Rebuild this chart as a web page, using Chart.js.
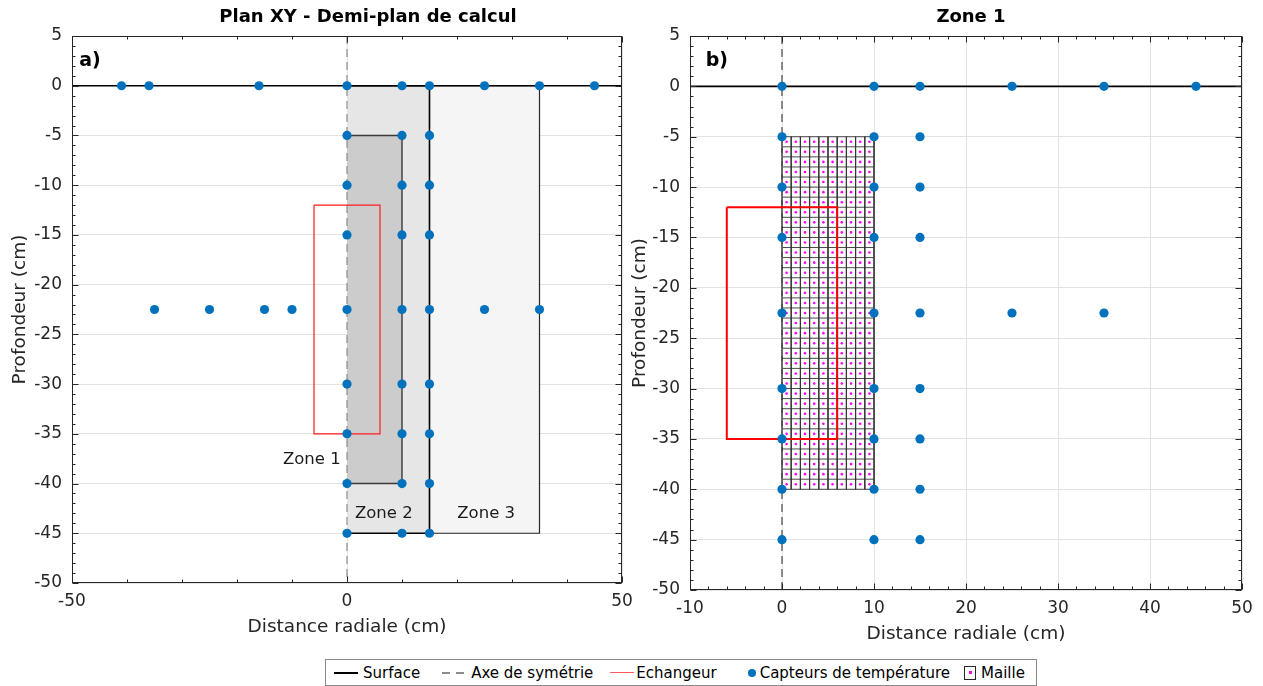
<!DOCTYPE html>
<html>
<head>
<meta charset="utf-8">
<script src="https://cdn.jsdelivr.net/npm/chart.js@4.4.1/dist/chart.umd.min.js"></script>
<style>
    body {
        margin: 0;
        background: #fff;
        width: 1263px;
        height: 686px;
        position: relative;
        overflow: hidden;
        font-family: "DejaVu Sans", Verdana, sans-serif;
    }
    canvas {
        position: absolute;
        top: 0;
    }
    #left-chart { left: 0; }
    #right-chart { left: 620px; }
    #legend {
        position: absolute;
        left: 325px;
        top: 659px;
        width: 710px;
        height: 25px;
        border: 1px solid #8a8a8a;
        display: flex;
        align-items: center;
        font-size: 15px;
        color: #000;
        white-space: nowrap;
    }
    .item { display: inline-flex; align-items: center; }
    .icon { display: inline-block; margin-right: 5px; }
    .solid { width: 24px; height: 2px; background: #000; }
    .dashed { width: 24px; height: 2px; background: repeating-linear-gradient(to right, #8c8c8c 0 8px, transparent 8px 14px); }
    .red { width: 24px; height: 1.5px; background: #ff5a5a; margin-right: 2px; }
    .dot { width: 8px; height: 8px; border-radius: 50%; background: #0072BD; margin: 0 4px 0 4px; }
    .cell { width: 10px; height: 12px; border: 1px solid #262626; position: relative; margin: 0 5px 0 2px; }
    .cell::after { content: ""; position: absolute; left: 3.5px; top: 4.5px; width: 3px; height: 3px; background: #ff00ff; }
</style>
</head>
<body>
<canvas id="left-chart" width="642" height="643"></canvas>
<canvas id="right-chart" width="643" height="650"></canvas>
<div id="legend">
    <span class="item" style="margin-left:8px"><span class="icon solid"></span>Surface</span>
    <span class="item" style="margin-left:22px"><span class="icon dashed"></span>Axe de symétrie</span>
    <span class="item" style="margin-left:17px"><span class="icon red"></span>Echangeur</span>
    <span class="item" style="margin-left:27px"><span class="icon dot"></span>Capteurs de température</span>
    <span class="item" style="margin-left:12px"><span class="icon cell"></span>Maille</span>
</div>
<script>
const FONT = '"DejaVu Sans", Verdana, sans-serif';
const TEXT_COLOR = '#262626';

// surface du sol et axe de symétrie
const surfaceXLeft = [-50, 50];
const surfaceXRight = [-10, 50];
const surfaceY = [0, 0];
const axisX = [0, 0];
const axisY = [5, -50];

// échangeur (rectangle rouge)
const exchangerX = [-6, 6, 6, -6, -6];
const exchangerY = [-12, -12, -35, -35, -12];

// zones : [gauche, droite] et [haut, bas]
const zone1X = [0, 10];
const zone1Y = [-5, -40];
const zone2X = [0, 15];
const zone2Y = [0, -45];
const zone3X = [15, 35];
const zone3Y = [0, -45];

// capteurs de température, rangée par profondeur
const sensorDepths = [0, -5, -10, -15, -22.5, -30, -35, -40, -45];
const sensorXLeft = [
    [-41, -36, -16, 0, 10, 15, 25, 35, 45],
    [0, 10, 15],
    [0, 10, 15],
    [0, 10, 15],
    [-35, -25, -15, -10, 0, 10, 15, 25, 35],
    [0, 10, 15],
    [0, 10, 15],
    [0, 10, 15],
    [0, 10, 15]
];
const sensorXRight = [
    [0, 10, 15, 25, 35, 45],
    [0, 10, 15],
    [0, 10, 15],
    [0, 10, 15],
    [0, 10, 15, 25, 35],
    [0, 10, 15],
    [0, 10, 15],
    [0, 10, 15],
    [0, 10, 15]
];

// maillage de la zone 1 (pas de 1 cm)
const meshX = [0, 1, 2, 3, 4, 5, 6, 7, 8, 9, 10];
const meshY = [-5, -6, -7, -8, -9, -10, -11, -12, -13, -14, -15, -16, -17, -18, -19, -20, -21, -22,
    -23, -24, -25, -26, -27, -28, -29, -30, -31, -32, -33, -34, -35, -36, -37, -38, -39, -40];
const meshCenterX = [0.5, 1.5, 2.5, 3.5, 4.5, 5.5, 6.5, 7.5, 8.5, 9.5];
const meshCenterY = [-5.5, -6.5, -7.5, -8.5, -9.5, -10.5, -11.5, -12.5, -13.5, -14.5, -15.5, -16.5,
    -17.5, -18.5, -19.5, -20.5, -21.5, -22.5, -23.5, -24.5, -25.5, -26.5, -27.5, -28.5, -29.5, -30.5,
    -31.5, -32.5, -33.5, -34.5, -35.5, -36.5, -37.5, -38.5, -39.5];

// textes dans les graphes
const zoneLabels = ['Zone 1', 'Zone 2', 'Zone 3'];
const zoneLabelX = [-6.4, 6.7, 25.3];
const zoneLabelY = [-37.6, -43, -43];

function points(xs, ys) {
    return xs.map((x, i) => ({ x: x, y: ys[i] }));
}

function sensorPoints(rows) {
    const out = [];
    rows.forEach((row, i) => {
        row.forEach(x => out.push({ x: x, y: sensorDepths[i] }));
    });
    return out;
}

function meshLines() {
    const out = [];
    const top = meshY[0];
    const bottom = meshY[meshY.length - 1];
    meshX.forEach(x => {
        out.push({ x: x, y: top }, { x: x, y: bottom }, { x: null, y: null });
    });
    meshY.forEach(y => {
        out.push({ x: meshX[0], y: y }, { x: meshX[meshX.length - 1], y: y }, { x: null, y: null });
    });
    return out;
}

function meshDots() {
    const out = [];
    meshCenterY.forEach(y => {
        meshCenterX.forEach(x => out.push({ x: x, y: y }));
    });
    return out;
}

function lineSet(data, color, width, dash) {
    return {
        data: data,
        showLine: true,
        borderColor: color,
        backgroundColor: color,
        borderWidth: width,
        borderDash: dash || [],
        pointRadius: 0,
        fill: false
    };
}

function zoneOutline(xs, ys, color, width) {
    return lineSet([
        { x: xs[0], y: ys[0] }, { x: xs[1], y: ys[0] },
        { x: xs[1], y: ys[1] }, { x: xs[0], y: ys[1] }
    ], color, width);
}

function zoneFill(xs, ys, color) {
    return {
        data: [{ x: xs[0], y: ys[0] }, { x: xs[1], y: ys[0] }],
        showLine: true,
        borderColor: 'transparent',
        borderWidth: 0,
        backgroundColor: color,
        pointRadius: 0,
        fill: { value: ys[1] }
    };
}

function sensorSet(data) {
    return {
        data: data,
        showLine: false,
        pointRadius: 4.6,
        pointBorderWidth: 0,
        backgroundColor: '#0072BD',
        borderColor: '#0072BD'
    };
}

// cadre + graduations vers l'intérieur (style MATLAB)
const boxTicks = {
    id: 'boxTicks',
    afterDatasetsDraw(chart, args, opts) {
        const { ctx, chartArea: a, scales: { x, y } } = chart;
        const left = Math.round(a.left) + 0.5;
        const right = Math.round(a.right) - 0.5;
        const top = Math.round(a.top) + 0.5;
        const bottom = Math.round(a.bottom) - 0.5;
        const isMajor = (scale, v) => scale.ticks.some(t => Math.abs(t.value - v) < 1e-6);
        ctx.save();
        ctx.strokeStyle = TEXT_COLOR;
        ctx.lineWidth = 1;
        ctx.beginPath();
        for (let v = x.min; v <= x.max + 1e-6; v += opts.xMinor) {
            const px = Math.round(x.getPixelForValue(v)) + 0.5;
            const len = isMajor(x, v) ? 6 : 3;
            ctx.moveTo(px, bottom); ctx.lineTo(px, bottom - len);
            ctx.moveTo(px, top); ctx.lineTo(px, top + len);
        }
        for (let v = y.min; v <= y.max + 1e-6; v += opts.yMinor) {
            const py = Math.round(y.getPixelForValue(v)) + 0.5;
            const len = isMajor(y, v) ? 6 : 3;
            ctx.moveTo(left, py); ctx.lineTo(left + len, py);
            ctx.moveTo(right, py); ctx.lineTo(right - len, py);
        }
        ctx.stroke();
        ctx.strokeRect(left, top, right - left, bottom - top);
        ctx.restore();
    }
};

// décale le titre comme dans la figure d'origine
const titleShift = {
    id: 'titleShift',
    afterLayout(chart, args, opts) {
        const t = chart.titleBlock;
        if (t && opts.dx) {
            t.left += opts.dx;
            t.right += opts.dx;
        }
    }
};

// textes placés en coordonnées de données
const notes = {
    id: 'notes',
    afterDatasetsDraw(chart, args, opts) {
        const { ctx, scales: { x, y } } = chart;
        ctx.save();
        ctx.textBaseline = 'middle';
        (opts.items || []).forEach(n => {
            ctx.font = (n.bold ? 'bold ' : '') + n.size + 'px ' + FONT;
            ctx.fillStyle = n.color || '#000';
            ctx.textAlign = n.align || 'center';
            ctx.fillText(n.text, x.getPixelForValue(n.x), y.getPixelForValue(n.y));
        });
        ctx.restore();
    }
};

function makeOptions(title, titleDx, xMin, xMax, xStep, xMinor, yWidth, rightPad, noteItems) {
    return {
        responsive: false,
        animation: false,
        layout: { padding: { left: 0, right: rightPad, top: 0, bottom: 0 } },
        plugins: {
            legend: { display: false },
            tooltip: { enabled: false },
            title: {
                display: true,
                text: title,
                fullSize: false,
                color: '#000',
                font: { family: FONT, size: 18, weight: 'bold', lineHeight: 1.2 },
                padding: { top: 7, bottom: 7.4 }
            },
            titleShift: { dx: titleDx },
            boxTicks: { xMinor: xMinor, yMinor: 1 },
            notes: { items: noteItems }
        },
        scales: {
            x: {
                type: 'linear',
                min: xMin,
                max: xMax,
                border: { display: false },
                grid: { color: '#e3e3e3', drawTicks: false },
                ticks: {
                    stepSize: xStep,
                    maxTicksLimit: 100,
                    padding: 8,
                    color: TEXT_COLOR,
                    font: { family: FONT, size: 17 },
                    callback: v => String(v)
                },
                title: {
                    display: true,
                    text: 'Distance radiale (cm)',
                    color: TEXT_COLOR,
                    font: { family: FONT, size: 18.5 },
                    padding: { top: 0, bottom: 5 }
                },
                afterFit(s) { s.height = 60; }
            },
            y: {
                type: 'linear',
                min: -50,
                max: 5,
                border: { display: false },
                grid: { color: '#e3e3e3', drawTicks: false },
                ticks: {
                    stepSize: 5,
                    maxTicksLimit: 100,
                    padding: 10,
                    color: TEXT_COLOR,
                    font: { family: FONT, size: 17 },
                    callback: v => String(v)
                },
                title: {
                    display: true,
                    text: 'Profondeur (cm)',
                    color: TEXT_COLOR,
                    font: { family: FONT, size: 18.5 },
                    padding: { top: 9, bottom: 0 }
                },
                afterFit(s) { s.width = yWidth; }
            }
        }
    };
}

const leftNotes = [{ text: 'a)', x: -48.7, y: 2.5, size: 19, bold: true, align: 'left' }];
zoneLabels.forEach((t, i) => {
    leftNotes.push({ text: t, x: zoneLabelX[i], y: zoneLabelY[i], size: 16.5, color: '#1a1a1a' });
});

new Chart(document.getElementById('left-chart'), {
    type: 'scatter',
    data: {
        datasets: [
            sensorSet(sensorPoints(sensorXLeft)),
            lineSet(points(exchangerX, exchangerY), '#ff1a1a', 1.2),
            lineSet(points(axisX, axisY), '#8c8c8c', 1.2, [8, 5]),
            lineSet(points(surfaceXLeft, surfaceY), '#000', 1.6),
            zoneOutline(zone1X, zone1Y, '#3a3a3a', 1.4),
            zoneFill(zone1X, zone1Y, '#cccccc'),
            zoneOutline(zone2X, zone2Y, '#000', 1.6),
            zoneFill(zone2X, zone2Y, '#e6e6e6'),
            zoneOutline(zone3X, zone3Y, '#262626', 1.2),
            zoneFill(zone3X, zone3Y, '#f5f5f5')
        ]
    },
    options: makeOptions('Plan XY - Demi-plan de calcul', 21, -50, 50, 50, 10, 72, 20, leftNotes),
    plugins: [titleShift, boxTicks, notes]
});

const rightNotes = [{ text: 'b)', x: -8.3, y: 2.5, size: 19, bold: true, align: 'left' }];

new Chart(document.getElementById('right-chart'), {
    type: 'scatter',
    data: {
        datasets: [
            sensorSet(sensorPoints(sensorXRight)),
            lineSet(points(exchangerX, exchangerY), '#ff0000', 2),
            lineSet(points(axisX, axisY), '#707070', 1.6, [8, 5]),
            lineSet(points(surfaceXRight, surfaceY), '#000', 1.8),
            {
                data: meshDots(),
                showLine: false,
                pointRadius: 1.3,
                pointBorderWidth: 0,
                backgroundColor: '#ff00ff',
                borderColor: '#ff00ff'
            },
            lineSet(meshLines(), '#333333', 0.9)
        ]
    },
    options: makeOptions('Zone 1', 5, -10, 50, 10, 2, 70, 21, rightNotes),
    plugins: [titleShift, boxTicks, notes]
});
</script>
</body>
</html>
